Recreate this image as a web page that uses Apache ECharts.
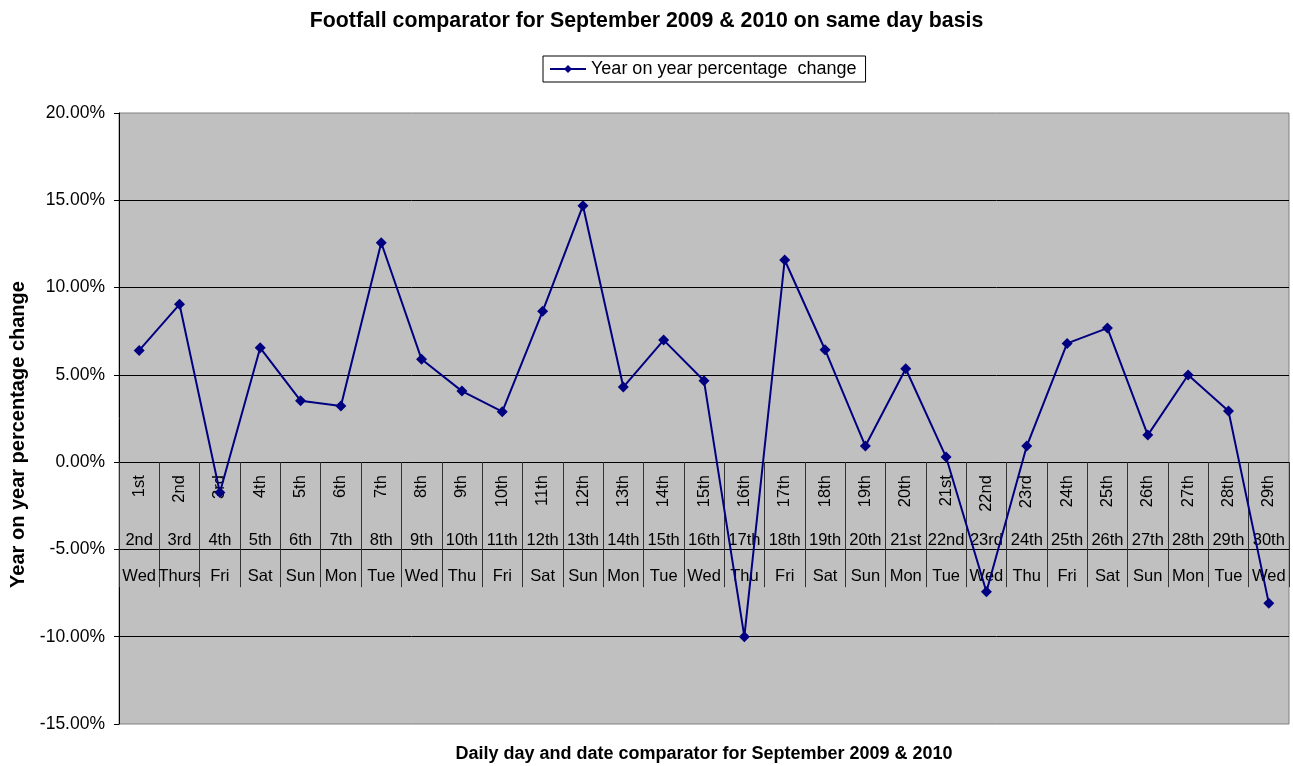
<!DOCTYPE html>
<html>
<head>
<meta charset="utf-8">
<title>Footfall comparator</title>
<script src="https://cdn.jsdelivr.net/npm/echarts@6/dist/echarts.min.js"></script>
<style>
  html, body { margin: 0; padding: 0; background: #ffffff; }
  #chart { width: 1293px; height: 766px; }
</style>
</head>
<body>
<div id="chart"></div>
<script>
// Day of month in September 2009
const days2009 = ['1st', '2nd', '3rd', '4th', '5th', '6th', '7th', '8th', '9th', '10th',
  '11th', '12th', '13th', '14th', '15th', '16th', '17th', '18th', '19th', '20th',
  '21st', '22nd', '23rd', '24th', '25th', '26th', '27th', '28th', '29th'];
// Matching same-weekday date in September 2010
const days2010 = ['2nd', '3rd', '4th', '5th', '6th', '7th', '8th', '9th', '10th', '11th',
  '12th', '13th', '14th', '15th', '16th', '17th', '18th', '19th', '20th', '21st',
  '22nd', '23rd', '24th', '25th', '26th', '27th', '28th', '29th', '30th'];
const weekdays = ['Wed', 'Thurs', 'Fri', 'Sat', 'Sun', 'Mon', 'Tue', 'Wed', 'Thu', 'Fri',
  'Sat', 'Sun', 'Mon', 'Tue', 'Wed', 'Thu', 'Fri', 'Sat', 'Sun', 'Mon',
  'Tue', 'Wed', 'Thu', 'Fri', 'Sat', 'Sun', 'Mon', 'Tue', 'Wed'];
// Year on year percentage change (%)
const yoyChange = [6.40, 9.04, -1.74, 6.55, 3.52, 3.21, 12.57, 5.89, 4.07, 2.89,
  8.64, 14.69, 4.30, 6.99, 4.66, -10.00, 11.58, 6.44, 0.92, 5.35,
  0.29, -7.42, 0.92, 6.80, 7.68, 1.55, 4.99, 2.93, -8.09];
const yTicks = { min: -15, max: 20, step: 5 };

const FONT = "'Liberation Sans', Arial, sans-serif";
const W = 1293, H = 766;
const GRID = { left: 119, right: 4, top: 113, bottom: 42 };

// The three category rows hang from the 0% line, so shift them up from the grid's bottom edge
const gridHeight = H - GRID.top - GRID.bottom;
const zeroOffset = -gridHeight * (0 - yTicks.min) / (yTicks.max - yTicks.min);

const chart = echarts.init(document.getElementById('chart'), null, { renderer: 'canvas' });

const labelBase = { color: '#000', fontFamily: FONT, fontSize: 16.5, interval: 0 };

chart.setOption({
  animation: false,
  backgroundColor: '#ffffff',
  title: {
    text: 'Footfall comparator for September 2009 & 2010 on same day basis',
    left: 'center',
    top: 6,
    textStyle: { fontFamily: FONT, fontSize: 21.3, fontWeight: 'bold', color: '#000' }
  },
  legend: {
    left: 543,
    top: 56,
    padding: [4, 9, 4, 6],
    borderColor: '#000',
    borderWidth: 1,
    itemWidth: 36,
    itemHeight: 10,
    textStyle: { fontFamily: FONT, fontSize: 18, color: '#000' },
    data: ['Year on year percentage  change']
  },
  grid: {
    left: GRID.left,
    right: GRID.right,
    top: GRID.top,
    bottom: GRID.bottom,
    show: true,
    backgroundColor: '#C0C0C0',
    borderColor: '#808080',
    borderWidth: 1,
    containLabel: false,
    outerBoundsMode: 'none'
  },
  xAxis: [
    {
      type: 'category',
      data: days2009,
      position: 'bottom',
      offset: zeroOffset,
      boundaryGap: true,
      name: 'Daily day and date comparator for September 2009 & 2010',
      nameLocation: 'middle',
      nameGap: 283,
      nameTextStyle: { fontFamily: FONT, fontSize: 18, fontWeight: 'bold', color: '#000' },
      axisLine: { show: true, onZero: false, lineStyle: { color: '#000', width: 1 } },
      axisTick: { show: true, interval: 0, length: 125, lineStyle: { color: '#333', width: 1 } },
      axisLabel: Object.assign({}, labelBase, { rotate: 90, margin: 13 }),
      splitLine: { show: false }
    },
    {
      type: 'category',
      data: days2010,
      position: 'bottom',
      offset: zeroOffset,
      axisLine: { show: false, onZero: false },
      axisTick: { show: false },
      axisLabel: Object.assign({}, labelBase, { margin: 70 }),
      splitLine: { show: false }
    },
    {
      type: 'category',
      data: weekdays,
      position: 'bottom',
      offset: zeroOffset,
      axisLine: { show: false, onZero: false },
      axisTick: { show: false },
      axisLabel: Object.assign({}, labelBase, { margin: 106 }),
      splitLine: { show: false }
    }
  ],
  yAxis: {
    type: 'value',
    min: yTicks.min,
    max: yTicks.max,
    interval: yTicks.step,
    name: 'Year on year percentage change',
    nameLocation: 'middle',
    nameGap: 89,
    nameTextStyle: { fontFamily: FONT, fontSize: 20, fontWeight: 'bold', color: '#000', padding: [0, 32, 0, 0] },
    axisLine: { show: true, lineStyle: { color: '#000', width: 1 } },
    axisTick: { show: true, length: 5, lineStyle: { color: '#000' } },
    axisLabel: {
      color: '#000', fontFamily: FONT, fontSize: 17.5, margin: 14,
      formatter: v => v.toFixed(2) + '%'
    },
    splitLine: { show: true, showMinLine: false, showMaxLine: false, lineStyle: { color: '#000', width: 1 } }
  },
  series: [{
    name: 'Year on year percentage  change',
    type: 'line',
    xAxisIndex: 0,
    yAxisIndex: 0,
    data: yoyChange,
    symbol: 'diamond',
    symbolSize: 11,
    showAllSymbol: true,
    itemStyle: { color: '#000080' },
    lineStyle: { color: '#000080', width: 2 },
    emphasis: { disabled: true }
  }]
});
</script>
</body>
</html>
